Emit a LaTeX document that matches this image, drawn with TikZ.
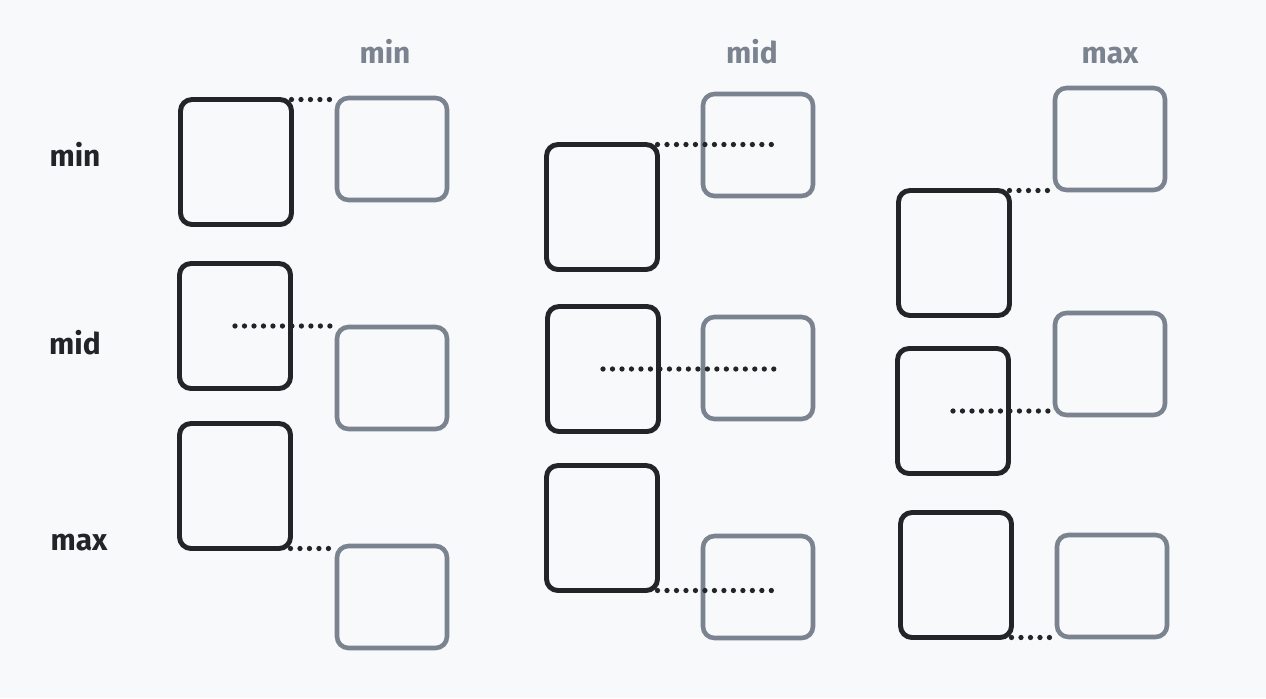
\documentclass[tikz,border=0pt]{standalone}
\usepackage{fontspec}
\setmainfont{Fira Sans}
\usetikzlibrary{calc}
\definecolor{pagebg}{HTML}{F8F9FA}
\definecolor{itemdark}{HTML}{222427}
\definecolor{itemgray}{HTML}{7A838F}

\begin{document}
\begin{tikzpicture}[x=.02cm, y=-.02cm,
    darkbox/.style={draw=itemdark, line width=2.8pt, rounded corners=6.5pt, minimum width=2.22cm, minimum height=2.5cm, inner sep=0pt, outer sep=0pt},
    graybox/.style={draw=itemgray, line width=2.6pt, rounded corners=6.5pt, minimum width=2.2cm, minimum height=2.04cm, inner sep=0pt, outer sep=0pt},
    dotline/.style={itemdark, line width=3pt, line cap=round, dash pattern=on 0pt off 5.4pt},
    rowlabel/.style={anchor=base, text=itemdark, font=\bfseries\fontsize{17}{17}\selectfont},
    collabel/.style={rowlabel, text=itemgray}]
    \fill[pagebg] (0,0) rectangle (1266,698);
    % labels
    \node[collabel] (colmin) at (385,63) {min};
    \node[collabel] (colmid) at (752,63) {mid};
    \node[collabel] (colmax) at (1110,63) {max};
    \node[rowlabel] (rowmin) at (75,166) {min};
    \node[rowlabel] (rowmid) at (75,354) {mid};
    \node[rowlabel] (rowmax) at (79,550) {max};
    % first column
    \node[darkbox] (d11) at (236,162) {};
    \node[graybox] (g11) at (392,149) {};
    \node[darkbox] (d12) at (235,326) {};
    \node[graybox] (g12) at (392,378) {};
    \node[darkbox] (d13) at (235,486) {};
    \node[graybox] (g13) at (392,597) {};
    % second column
    \node[darkbox] (d21) at (602,207) {};
    \node[graybox] (g21) at (758,145) {};
    \node[darkbox] (d22) at (603,369) {};
    \node[graybox] (g22) at (758,368) {};
    \node[darkbox] (d23) at (602,528) {};
    \node[graybox] (g23) at (758,587) {};
    % third column
    \node[darkbox] (d31) at (954,253) {};
    \node[graybox] (g31) at (1110,139) {};
    \node[darkbox] (d32) at (953,411) {};
    \node[graybox] (g32) at (1110,364) {};
    \node[darkbox] (d33) at (956,575) {};
    \node[graybox] (g33) at (1112,586) {};
    % alignment lines
    \draw[dotline] (d11.north east) -- (d11.north east -| g11.west);
    \draw[dotline] (d12.center) -- (d12.center -| g12.west);
    \draw[dotline] (d13.south east) -- (d13.south east -| g13.west);
    \draw[dotline] (d21.north east) -- (d21.north east -| {$(g21.center)!.35!(g21.east)$});
    \draw[dotline] (d22.center) -- (d22.center -| {$(g22.center)!.35!(g22.east)$});
    \draw[dotline] (d23.south east) -- (d23.south east -| {$(g23.center)!.35!(g23.east)$});
    \draw[dotline] (d31.north east) -- (d31.north east -| g31.west);
    \draw[dotline] (d32.center) -- (d32.center -| g32.west);
    \draw[dotline] (d33.south east) -- (d33.south east -| g33.west);
\end{tikzpicture}
\end{document}
